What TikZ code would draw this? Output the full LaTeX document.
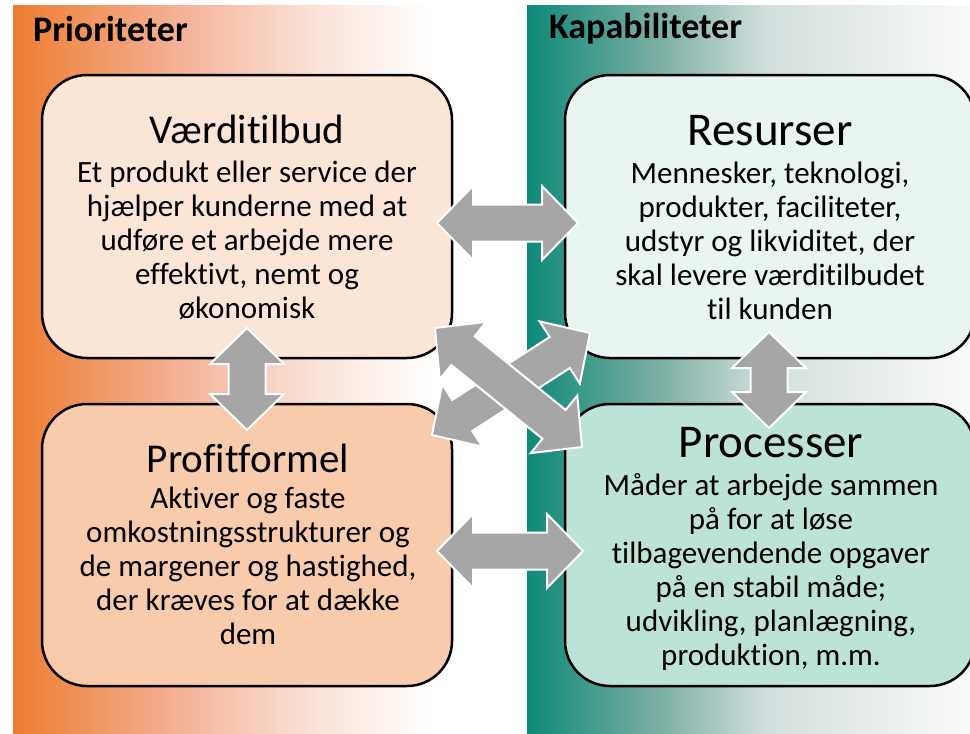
\documentclass[tikz,border=0pt]{standalone}
\usepackage{fontspec}
\setmainfont{Carlito}[Ligatures={NoCommon}]
\usetikzlibrary{calc}
\definecolor{orng}{RGB}{237,125,49}
\definecolor{orng2}{RGB}{244,178,150}
\definecolor{orng3}{RGB}{250,226,216}
\definecolor{teal1}{RGB}{14,137,120}
\definecolor{teal2}{RGB}{125,175,163}
\definecolor{teal3}{RGB}{210,223,221}
\definecolor{teal4}{RGB}{250,250,250}
\definecolor{boxA}{RGB}{251,229,214}
\definecolor{boxB}{RGB}{248,203,173}
\definecolor{boxC}{RGB}{233,245,241}
\definecolor{boxD}{RGB}{189,227,216}
\definecolor{arrgray}{RGB}{166,166,166}
\pgfdeclarehorizontalshading{orangefade}{100bp}{color(0bp)=(orng); color(25bp)=(orng); color(42bp)=(orng2); color(56bp)=(orng3); color(68bp)=(white); color(100bp)=(white)}
\pgfdeclarehorizontalshading{tealfade}{100bp}{color(0bp)=(teal1); color(25bp)=(teal1); color(40bp)=(teal2); color(52bp)=(teal3); color(75bp)=(teal4); color(100bp)=(teal4)}
\tikzset{
  box/.style={draw=black, line width=2.5pt, rounded corners=45pt, minimum width=410pt, inner sep=0pt},
  ttl/.style={anchor=base, inner sep=0pt, font=\fontsize{41}{48}\selectfont},
  bigttl/.style={anchor=base, inner sep=0pt, font=\fontsize{47}{54}\selectfont},
  body/.style={anchor=base, inner sep=0pt, align=center, font=\fontsize{31}{34}\selectfont},
  hdr/.style={anchor=base west, inner sep=0pt, font=\fontsize{36}{40}\selectfont\bfseries},
  arrowshape/.style={fill=arrgray, draw=white, line width=2pt, line join=miter}
}
\newcommand\fatarrow[2]{%
  \path ($(#1)!36pt!(#2)$) coordinate (ha) ($(#2)!36pt!(#1)$) coordinate (hb);
  \draw[arrowshape] (#1) -- ($(ha)!37pt!90:(#2)$) -- ($(ha)!18.5pt!90:(#2)$)
    -- ($(hb)!18.5pt!-90:(#1)$) -- ($(hb)!37pt!-90:(#1)$) -- (#2)
    -- ($(hb)!37pt!90:(#1)$) -- ($(hb)!18.5pt!90:(#1)$)
    -- ($(ha)!18.5pt!-90:(#2)$) -- ($(ha)!37pt!-90:(#2)$) -- cycle;}
\begin{document}
\begin{tikzpicture}[x=1pt,y=-1pt]
\useasboundingbox (0,0) rectangle (970,734);
\fill[white] (0,0) rectangle (970,734);
% background panels
\shade[shading=orangefade] (13,5) rectangle (500,734);
\shade[shading=tealfade] (527,5) rectangle (970,734);
\node[hdr] (hP) at (33,41) {Prioriteter};
\node[hdr] (hK) at (549,38) {Kapabiliteter};
% boxes
\node[box, fill=boxA, minimum height=283pt] (vt) at (247,216.5) {};
\node[box, fill=boxB, minimum height=282pt] (pf) at (247,545) {};
\node[box, fill=boxC, minimum height=283pt] (rs) at (770,216.5) {};
\node[box, fill=boxD, minimum height=282pt] (pr) at (770,545) {};
% texts (body anchor = baseline of last line)
\node[ttl] (vtT) at (247,143) {Værditilbud};
\node[body] (vtB) at (247,318) {Et produkt eller service der\\hjælper kunderne med at\\udføre et arbejde mere\\effektivt, nemt og\\økonomisk};
\node[ttl] (pfT) at (248,472) {Profitformel};
\node[body] (pfB) at (248,644) {Aktiver og faste\\omkostningsstrukturer og\\de margener og hastighed,\\der kræves for at dække\\dem};
\node[bigttl] (rsT) at (770,145) {Resurser};
\node[body] (rsB) at (770,319) {Mennesker, teknologi,\\produkter, faciliteter,\\udstyr og likviditet, der\\skal levere værditilbudet\\til kunden};
\node[bigttl] (prT) at (771,457) {Processer};
\node[body] (prB) at (771,665) {Måder at arbejde sammen\\på for at løse\\tilbagevendende opgaver\\på en stabil måde;\\udvikling, planlægning,\\produktion, m.m.};
% arrow end points
\coordinate (a1) at (437,223); \coordinate (a2) at (578,223);
\coordinate (b1) at (437,551); \coordinate (b2) at (583,551);
\coordinate (c1) at (247,328); \coordinate (c2) at (247,430);
\coordinate (d1) at (769,332); \coordinate (d2) at (769,428);
\coordinate (e1) at (432,435); \coordinate (e2) at (590,333);
\coordinate (f1) at (435,328); \coordinate (f2) at (582,447);
\fatarrow{a1}{a2}
\fatarrow{b1}{b2}
\fatarrow{c1}{c2}
\fatarrow{d1}{d2}
\fatarrow{e1}{e2}
\fatarrow{f1}{f2}
\end{tikzpicture}
\end{document}
